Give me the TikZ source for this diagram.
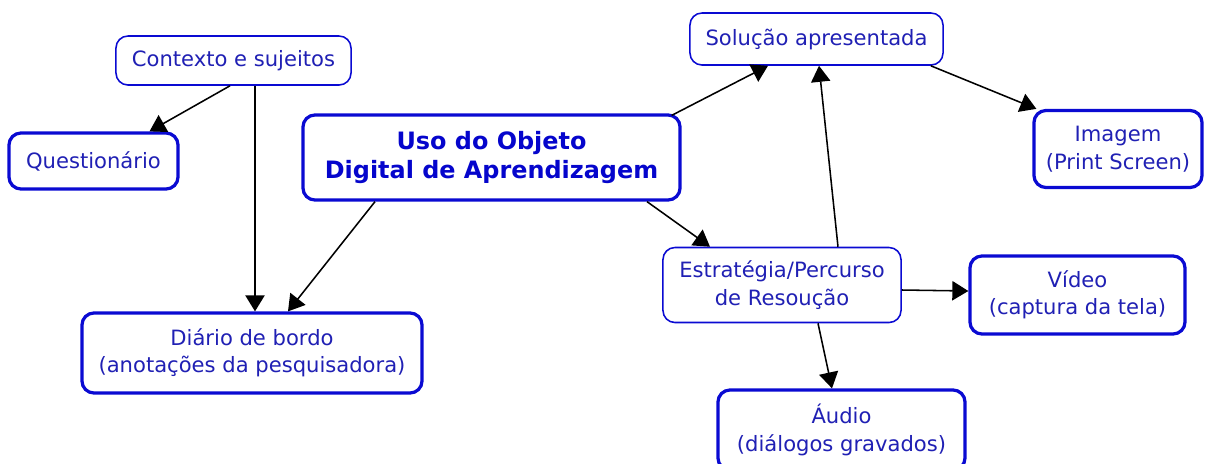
\documentclass[tikz,border=0pt]{standalone}
\usepackage{fontspec}
\setmainfont{DejaVu Sans}
\usepackage{xcolor}
\usepackage{tikz}
\usetikzlibrary{calc,arrows.meta}
\definecolor{frame}{HTML}{0A0AD2}
\definecolor{ink}{HTML}{2020B4}
\definecolor{title}{HTML}{0505CC}
\tikzset{
  box/.style={draw=frame, rounded corners=3mm, fill=white, text=ink, align=center,
    inner sep=0pt, font=\fontsize{15}{19.5}\selectfont},
  thin/.style={box, line width=1.1pt},
  thick/.style={box, line width=2.3pt},
  link/.style={draw=black, line width=1.1pt, -{Triangle[length=4mm,width=4.8mm]}},
}

\begin{document}
\begin{tikzpicture}[x=0.025cm,y=-0.025cm]
  \useasboundingbox (0,0) rectangle (1206,463);
  \node[thin, minimum width=5.875cm, minimum height=1.225cm] (ctx) at (233.5,60.5) {Contexto e sujeitos};
  \node[thick, minimum width=4.225cm, minimum height=1.4cm] (quest) at (93.5,161) {Questionário};
  \node[thick, minimum width=9.425cm, minimum height=2.125cm, text=title,
    font=\fontsize{17}{21}\selectfont\bfseries] (uso) at (491.5,157.5) {Uso do Objeto\\Digital de Aprendizagem};
  \node[thin, minimum width=6.325cm, minimum height=1.3cm] (sol) at (816.5,39) {Solução apresentada};
  \node[thick, minimum width=4.2cm, minimum height=1.925cm] (img) at (1118,149) {Imagem\\(Print Screen)};
  \node[thin, minimum width=5.95cm, minimum height=1.875cm] (estr) at (782,285) {Estratégia/Percurso\\de Resoução};
  \node[thick, minimum width=5.375cm, minimum height=1.95cm] (vid) at (1077.5,295) {Vídeo\\(captura da tela)};
  \node[thick, minimum width=8.5cm, minimum height=2cm] (diario) at (252,353) {Diário de bordo\\(anotações da pesquisadora)};
  \node[thick, minimum width=6.175cm, minimum height=2cm] (audio) at (841.5,430) {Áudio\\(diálogos gravados)};
  % ligacoes
  \draw[link] ([shift={(-3.5,0)}]ctx.south) -- ([shift={(56,0)}]quest.north);
  \draw[link] ([shift={(21.5,0)}]ctx.south) -- ([shift={(21.5,0)}]ctx.south |- diario.north);
  \draw[link] ([shift={(-116.5,0)}]uso.south) -- ([shift={(36,0)}]diario.north);
  \draw[link] ([shift={(-10,2)}]uso.north east) -- ([shift={(-48.5,0)}]sol.south);
  \draw[link] ([shift={(155.5,0)}]uso.south) -- ([shift={(-72,0)}]estr.north);
  \draw[link] ([shift={(56,0)}]estr.north) -- ([shift={(2.5,0)}]sol.south);
  \draw[link] ([shift={(-13,0)}]sol.south east) -- ([shift={(4,0)}]img.north west);
  \draw[link] ([shift={(0,5)}]estr.east) -- ([shift={(0,-4)}]vid.west);
  \draw[link] ([shift={(36,0)}]estr.south) -- ([shift={(-9.5,0)}]audio.north);
\end{tikzpicture}
\end{document}
